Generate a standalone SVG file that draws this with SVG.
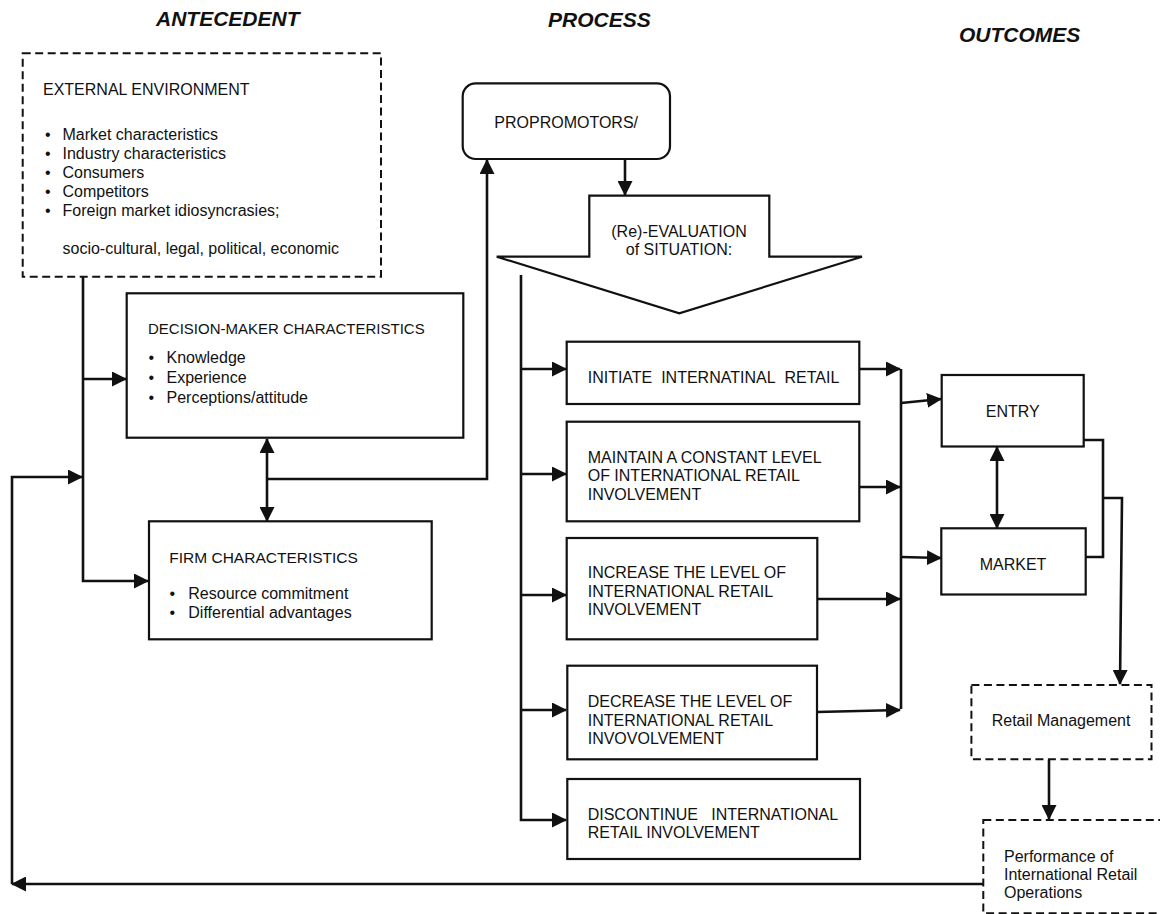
<svg xmlns="http://www.w3.org/2000/svg" width="1160" height="914" viewBox="0 0 1160 914">
<defs>
<style>
text{font-family:"Liberation Sans",Arial,sans-serif;font-size:16px;fill:#111}
.hd{font-size:21px;font-weight:bold;font-style:italic}
.box{fill:#fff;stroke:#111;stroke-width:2.2}
.dash{fill:#fff;stroke:#111;stroke-width:2;stroke-dasharray:8 4.5}
.c{fill:none;stroke:#111;stroke-width:2.6}
.ar{marker-end:url(#ah)}
.ba{marker-start:url(#ah);marker-end:url(#ah)}
.mid{text-anchor:middle}
</style>
<marker id="ah" viewBox="0 0 15 15" refX="14" refY="7.5" markerWidth="15" markerHeight="15" markerUnits="userSpaceOnUse" orient="auto-start-reverse">
<path d="M0,0 L15,7.5 L0,15 z" fill="#111"/>
</marker>
</defs>
<rect width="1160" height="914" fill="#fff"/>

<g id="headers">
<text class="hd" x="156" y="26">ANTECEDENT</text>
<text class="hd" x="548" y="27">PROCESS</text>
<text class="hd" x="959" y="42">OUTCOMES</text>
</g>

<g id="connectors">
<path class="c ar" d="M83,277 V581 H148"/>
<path class="c ar" d="M83,379 H126"/>
<path class="c ar" d="M983,884 H12"/>
<path class="c ar" d="M12,884 V477 H82"/>
<path class="c ba" d="M267,439 V521"/>
<path class="c ar" d="M267,479 H487 V160"/>
<path class="c ar" d="M625,159 V195"/>
<path class="c ar" d="M521,275 V820 H566"/>
<path class="c ar" d="M521,369 H566"/>
<path class="c ar" d="M521,474 H566"/>
<path class="c ar" d="M521,595 H566"/>
<path class="c ar" d="M521,710 H566"/>
<path class="c ar" d="M859,369 H900"/>
<path class="c ar" d="M859,487 H900"/>
<path class="c ar" d="M817,599 H900"/>
<path class="c ar" d="M817,712 L900,710"/>
<path class="c" d="M901,369 V709"/>
<path class="c ar" d="M901,403 L941,399"/>
<path class="c ar" d="M901,557 L941,558"/>
<path class="c ba" d="M997,447 V528"/>
<path class="c" d="M1084,440 H1103 V557 H1086"/>
<path class="c ar" d="M1103,498 H1122 L1120,684"/>
<path class="c ar" d="M1049,760 V819"/>
</g>

<g id="external-environment">
<rect class="dash" x="22.7" y="53.3" width="358.3" height="223.4"/>
<text x="43" y="95">EXTERNAL ENVIRONMENT</text>
<text x="45" y="140">•</text><text x="62.5" y="140">Market characteristics</text>
<text x="45" y="159">•</text><text x="62.5" y="159">Industry characteristics</text>
<text x="45" y="178">•</text><text x="62.5" y="178">Consumers</text>
<text x="45" y="197">•</text><text x="62.5" y="197">Competitors</text>
<text x="45" y="216">•</text><text x="62.5" y="216">Foreign market idiosyncrasies;</text>
<text x="62.5" y="254">socio-cultural, legal, political, economic</text>
</g>

<g id="decision-maker">
<rect class="box" x="126.7" y="293.3" width="336.6" height="144.4"/>
<text x="148" y="334.3" style="font-size:15px">DECISION-MAKER CHARACTERISTICS</text>
<text x="148.5" y="362.7">•</text><text x="166.5" y="362.7">Knowledge</text>
<text x="148.5" y="382.7">•</text><text x="166.5" y="382.7">Experience</text>
<text x="148.5" y="402.7">•</text><text x="166.5" y="402.7">Perceptions/attitude</text>
</g>

<g id="firm">
<rect class="box" x="149" y="521.3" width="282.7" height="118"/>
<text x="169.3" y="562.7" style="font-size:15.5px">FIRM CHARACTERISTICS</text>
<text x="169.5" y="599.3">•</text><text x="188.3" y="599.3">Resource commitment</text>
<text x="169.5" y="618.3">•</text><text x="188.3" y="618.3">Differential advantages</text>
</g>

<g id="propromotors">
<rect class="box" x="462.7" y="83.3" width="207.3" height="75.7" rx="13"/>
<text x="494.3" y="128.3">PROPROMOTORS/</text>
</g>

<g id="evaluation">
<polygon class="box" points="589.3,195.7 769.3,195.7 769.3,256.7 862,256.7 679.3,313.3 496.7,256.7 589.3,256.7"/>
<text class="mid" x="679" y="236.7">(Re)-EVALUATION</text>
<text class="mid" x="679" y="255">of SITUATION:</text>
</g>

<g id="initiate">
<rect class="box" x="566.7" y="341.7" width="292.6" height="62.3"/>
<text x="587.7" y="382.7">INITIATE&#160; INTERNATINAL&#160; RETAIL</text>
</g>

<g id="maintain">
<rect class="box" x="566.7" y="421.7" width="292.6" height="99.6"/>
<text x="587.7" y="462.7">MAINTAIN A CONSTANT LEVEL</text>
<text x="587.7" y="481.4">OF INTERNATIONAL RETAIL</text>
<text x="587.7" y="500">INVOLVEMENT</text>
</g>

<g id="increase">
<rect class="box" x="566.7" y="538" width="250.6" height="101.3"/>
<text x="587.7" y="578.3">INCREASE THE LEVEL OF</text>
<text x="587.7" y="596.7">INTERNATIONAL RETAIL</text>
<text x="587.7" y="615">INVOLVEMENT</text>
</g>

<g id="decrease">
<rect class="box" x="567.3" y="665.7" width="249.7" height="93.6"/>
<text x="587.7" y="707.3">DECREASE THE LEVEL OF</text>
<text x="587.7" y="725.5">INTERNATIONAL RETAIL</text>
<text x="587.7" y="743.5">INVOVOLVEMENT</text>
</g>

<g id="discontinue">
<rect class="box" x="567.3" y="779" width="292.7" height="80"/>
<text x="587.7" y="820">DISCONTINUE&#160;&#160; INTERNATIONAL</text>
<text x="587.7" y="838.3">RETAIL INVOLVEMENT</text>
</g>

<g id="entry">
<rect class="box" x="941.7" y="375" width="142" height="71.5"/>
<text class="mid" x="1012.7" y="416.7">ENTRY</text>
</g>

<g id="market">
<rect class="box" x="941.3" y="528.3" width="144.4" height="66.2"/>
<text class="mid" x="1013" y="570">MARKET</text>
</g>

<g id="retail-management">
<rect class="dash" x="971.4" y="685" width="180.1" height="74.3"/>
<text x="991.7" y="726">Retail Management</text>
</g>

<g id="performance">
<rect class="dash" x="983.3" y="820" width="190" height="93.3"/>
<text x="1004" y="861.7">Performance of</text>
<text x="1004" y="880">International Retail</text>
<text x="1004" y="898.3">Operations</text>
</g>
</svg>
